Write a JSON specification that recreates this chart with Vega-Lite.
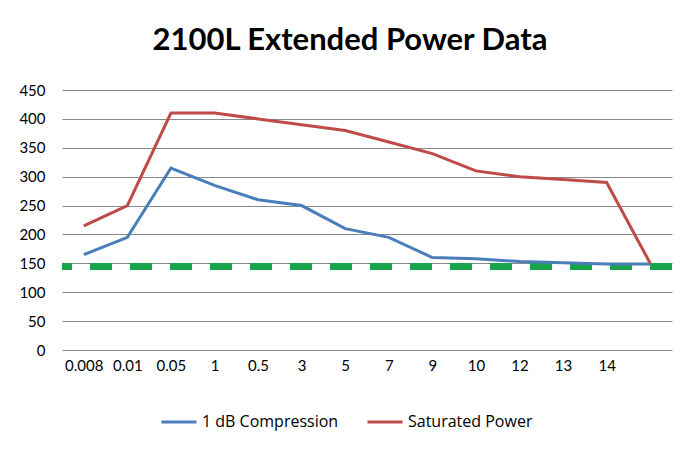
{
  "$schema": "https://vega.github.io/schema/vega-lite/v6.json",
  "autosize": {"type": "none"},
  "width": 610,
  "height": 260,
  "padding": {"left": 62, "top": 90, "right": 19, "bottom": 99},
  "background": "white",
  "title": {
    "text": "2100L Extended Power Data",
    "font": "Lato",
    "fontSize": 31,
    "fontWeight": "bold",
    "color": "#000000",
    "anchor": "middle",
    "dx": -17,
    "offset": 26
  },
  "config": {
    "view": {"stroke": null},
    "font": "Lato",
    "axisY": {
      "grid": true,
      "gridColor": "#8a8a8a",
      "gridWidth": 1,
      "labelOverlap": false,
      "labelFontSize": 15,
      "labelColor": "#000000",
      "labelFont": "Lato",
      "ticks": false,
      "domain": false,
      "labelPadding": 17,
      "title": null
    }
  },
  "data": {
    "values": [
      {"cat": "0.008", "series": "1 dB Compression", "value": 165},
      {"cat": "0.01", "series": "1 dB Compression", "value": 195},
      {"cat": "0.05", "series": "1 dB Compression", "value": 315},
      {"cat": "1", "series": "1 dB Compression", "value": 285},
      {"cat": "0.5", "series": "1 dB Compression", "value": 260},
      {"cat": "3", "series": "1 dB Compression", "value": 250},
      {"cat": "5", "series": "1 dB Compression", "value": 210},
      {"cat": "7", "series": "1 dB Compression", "value": 195},
      {"cat": "9", "series": "1 dB Compression", "value": 160},
      {"cat": "10", "series": "1 dB Compression", "value": 158},
      {"cat": "12", "series": "1 dB Compression", "value": 153},
      {"cat": "13", "series": "1 dB Compression", "value": 151},
      {"cat": "14", "series": "1 dB Compression", "value": 149},
      {"cat": " ", "series": "1 dB Compression", "value": 149},
      {"cat": "0.008", "series": "Saturated Power", "value": 215},
      {"cat": "0.01", "series": "Saturated Power", "value": 250},
      {"cat": "0.05", "series": "Saturated Power", "value": 410},
      {"cat": "1", "series": "Saturated Power", "value": 410},
      {"cat": "0.5", "series": "Saturated Power", "value": 400},
      {"cat": "3", "series": "Saturated Power", "value": 390},
      {"cat": "5", "series": "Saturated Power", "value": 380},
      {"cat": "7", "series": "Saturated Power", "value": 360},
      {"cat": "9", "series": "Saturated Power", "value": 340},
      {"cat": "10", "series": "Saturated Power", "value": 310},
      {"cat": "12", "series": "Saturated Power", "value": 300},
      {"cat": "13", "series": "Saturated Power", "value": 295},
      {"cat": "14", "series": "Saturated Power", "value": 290},
      {"cat": " ", "series": "Saturated Power", "value": 150}
    ]
  },
  "encoding": {
    "y": {
      "type": "quantitative",
      "scale": {"domain": [0, 450], "nice": false},
      "axis": {"values": [0, 50, 100, 150, 200, 250, 300, 350, 400, 450]}
    }
  },
  "layer": [
    {
      "mark": {"type": "rule", "color": "#18A54A", "strokeWidth": 6, "strokeDash": [22, 18]},
      "encoding": {"y": {"datum": 145, "type": "quantitative"}}
    },
    {
      "mark": {"type": "line", "strokeWidth": 3},
      "encoding": {
        "x": {
          "field": "cat",
          "type": "ordinal",
          "sort": null,
          "scale": {"paddingInner": 0, "paddingOuter": 0.5},
          "axis": {
            "title": null,
            "labelAngle": 0,
            "labelFontSize": 15,
            "labelColor": "#000000",
            "labelFont": "Lato",
            "ticks": false,
            "domain": false,
            "labelPadding": 8
          }
        },
        "y": {
          "field": "value",
          "type": "quantitative",
          "scale": {"domain": [0, 450], "nice": false},
          "axis": {"values": [0, 50, 100, 150, 200, 250, 300, 350, 400, 450]}
        },
        "color": {
          "field": "series",
          "type": "nominal",
          "scale": {"domain": ["1 dB Compression", "Saturated Power"], "range": ["#4A7EBB", "#BE4B48"]},
          "legend": {
            "title": null,
            "orient": "none",
            "direction": "horizontal",
            "legendX": 98,
            "legendY": 313,
            "symbolType": "stroke",
            "symbolSize": 1225,
            "symbolStrokeWidth": 3,
            "labelFontSize": 16,
            "labelColor": "#000000",
            "labelFont": "Open Sans",
            "columnPadding": 22,
            "labelOffset": 4
          }
        }
      }
    }
  ]
}
